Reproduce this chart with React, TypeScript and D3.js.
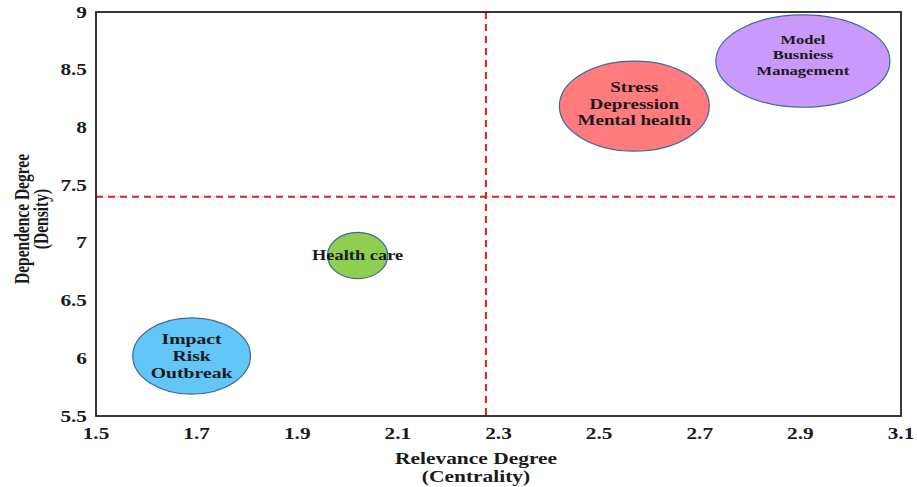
import React from "react";
import * as d3 from "d3";

const labels: string[][] = [
  ["Impact", "Risk", "Outbreak"],
  ["Health care"],
  ["Stress", "Depression", "Mental health"],
  ["Model", "Busniess", "Management"],
];
const centrality = [1.69, 2.02, 2.57, 2.905];
const density = [6.02, 6.89, 8.185, 8.575];
const spreadX = [0.117, 0.06, 0.149, 0.173];
const spreadY = [0.33, 0.2, 0.39, 0.4];
const fills = ["#63C6F8", "#8FCE4E", "#FF7B7E", "#C999FB"];
const fontSizes = [15.5, 14.5, 15, 13];
const lineGaps = [17, 0, 16.5, 15.5];
const textShift = [0, 0, -2, -6];

const xTicks = [1.5, 1.7, 1.9, 2.1, 2.3, 2.5, 2.7, 2.9, 3.1];
const yTicks = [5.5, 6, 6.5, 7, 7.5, 8, 8.5, 9];
const xThreshold = 2.275;
const yThreshold = 7.4;

const W = 917, H = 487;
const L = 96, R = 901, T = 12, B = 416;

function SText({ x, y, s, anchor = "middle", size, children }: any) {
  return (
    <text transform={`translate(${x},${y}) scale(${s},1)`} x={0} y={0} textAnchor={anchor}
      dominantBaseline="central" fontSize={size} fontWeight="bold" fill="#1a1a1a">{children}</text>
  );
}

export default function App() {
  const x = d3.scaleLinear().domain([1.5, 3.1]).range([L, R]);
  const y = d3.scaleLinear().domain([5.5, 9]).range([B, T]);
  const font = "'Liberation Serif', 'Times New Roman', serif";
  return (
    <svg width={W} height={H} style={{ position: "absolute", left: 0, top: 0, background: "#fff" }} fontFamily={font}>
      <rect x={0} y={0} width={W} height={H} fill="#fff" />
      <line x1={x(xThreshold)} x2={x(xThreshold)} y1={T} y2={B} stroke="#E02020" strokeWidth={2} strokeDasharray="7,5" />
      <line x1={L} x2={R} y1={y(yThreshold)} y2={y(yThreshold)} stroke="#E02020" strokeWidth={2} strokeDasharray="7,5" />
      {centrality.map((cx, i) => {
        const px = x(cx), py = y(density[i]);
        const rx = x(1.5 + spreadX[i]) - x(1.5);
        const ry = y(5.5) - y(5.5 + spreadY[i]);
        const lines = labels[i];
        const gap = lineGaps[i];
        const startY = py + textShift[i] - ((lines.length - 1) * gap) / 2;
        return (
          <g key={i}>
            <ellipse cx={px} cy={py} rx={rx} ry={ry} fill={fills[i]} stroke="#3E6A9A" strokeWidth={1.2} />
            {lines.map((t, j) => (
              <SText key={j} x={px} y={startY + j * gap} s={1.27} size={fontSizes[i]}>{t}</SText>
            ))}
          </g>
        );
      })}
      <rect x={L} y={T} width={R - L} height={B - T} fill="none" stroke="#222" strokeWidth={1.8} />
      {xTicks.map((t) => (
        <SText key={t} x={x(t)} y={B + 17} s={1.33} size={16}>{d3.format(".1f")(t)}</SText>
      ))}
      {yTicks.map((t) => (
        <SText key={t} x={L - 9} y={y(t)} s={1.33} size={16} anchor="end">
          {t % 1 === 0 ? String(t) : d3.format(".1f")(t)}
        </SText>
      ))}
      <SText x={476} y={458} s={1.3} size={16.5}>Relevance Degree</SText>
      <SText x={476} y={476} s={1.3} size={16.5}>(Centrality)</SText>
      <g transform="translate(22,219) scale(1.3,1) rotate(-90)">
        <text x={0} y={0} textAnchor="middle" dominantBaseline="central" fontSize={15.5} fontWeight="bold" fill="#1a1a1a">Dependence Degree</text>
        <text x={0} y={14.6} textAnchor="middle" dominantBaseline="central" fontSize={15.5} fontWeight="bold" fill="#1a1a1a">(Density)</text>
      </g>
    </svg>
  );
}
